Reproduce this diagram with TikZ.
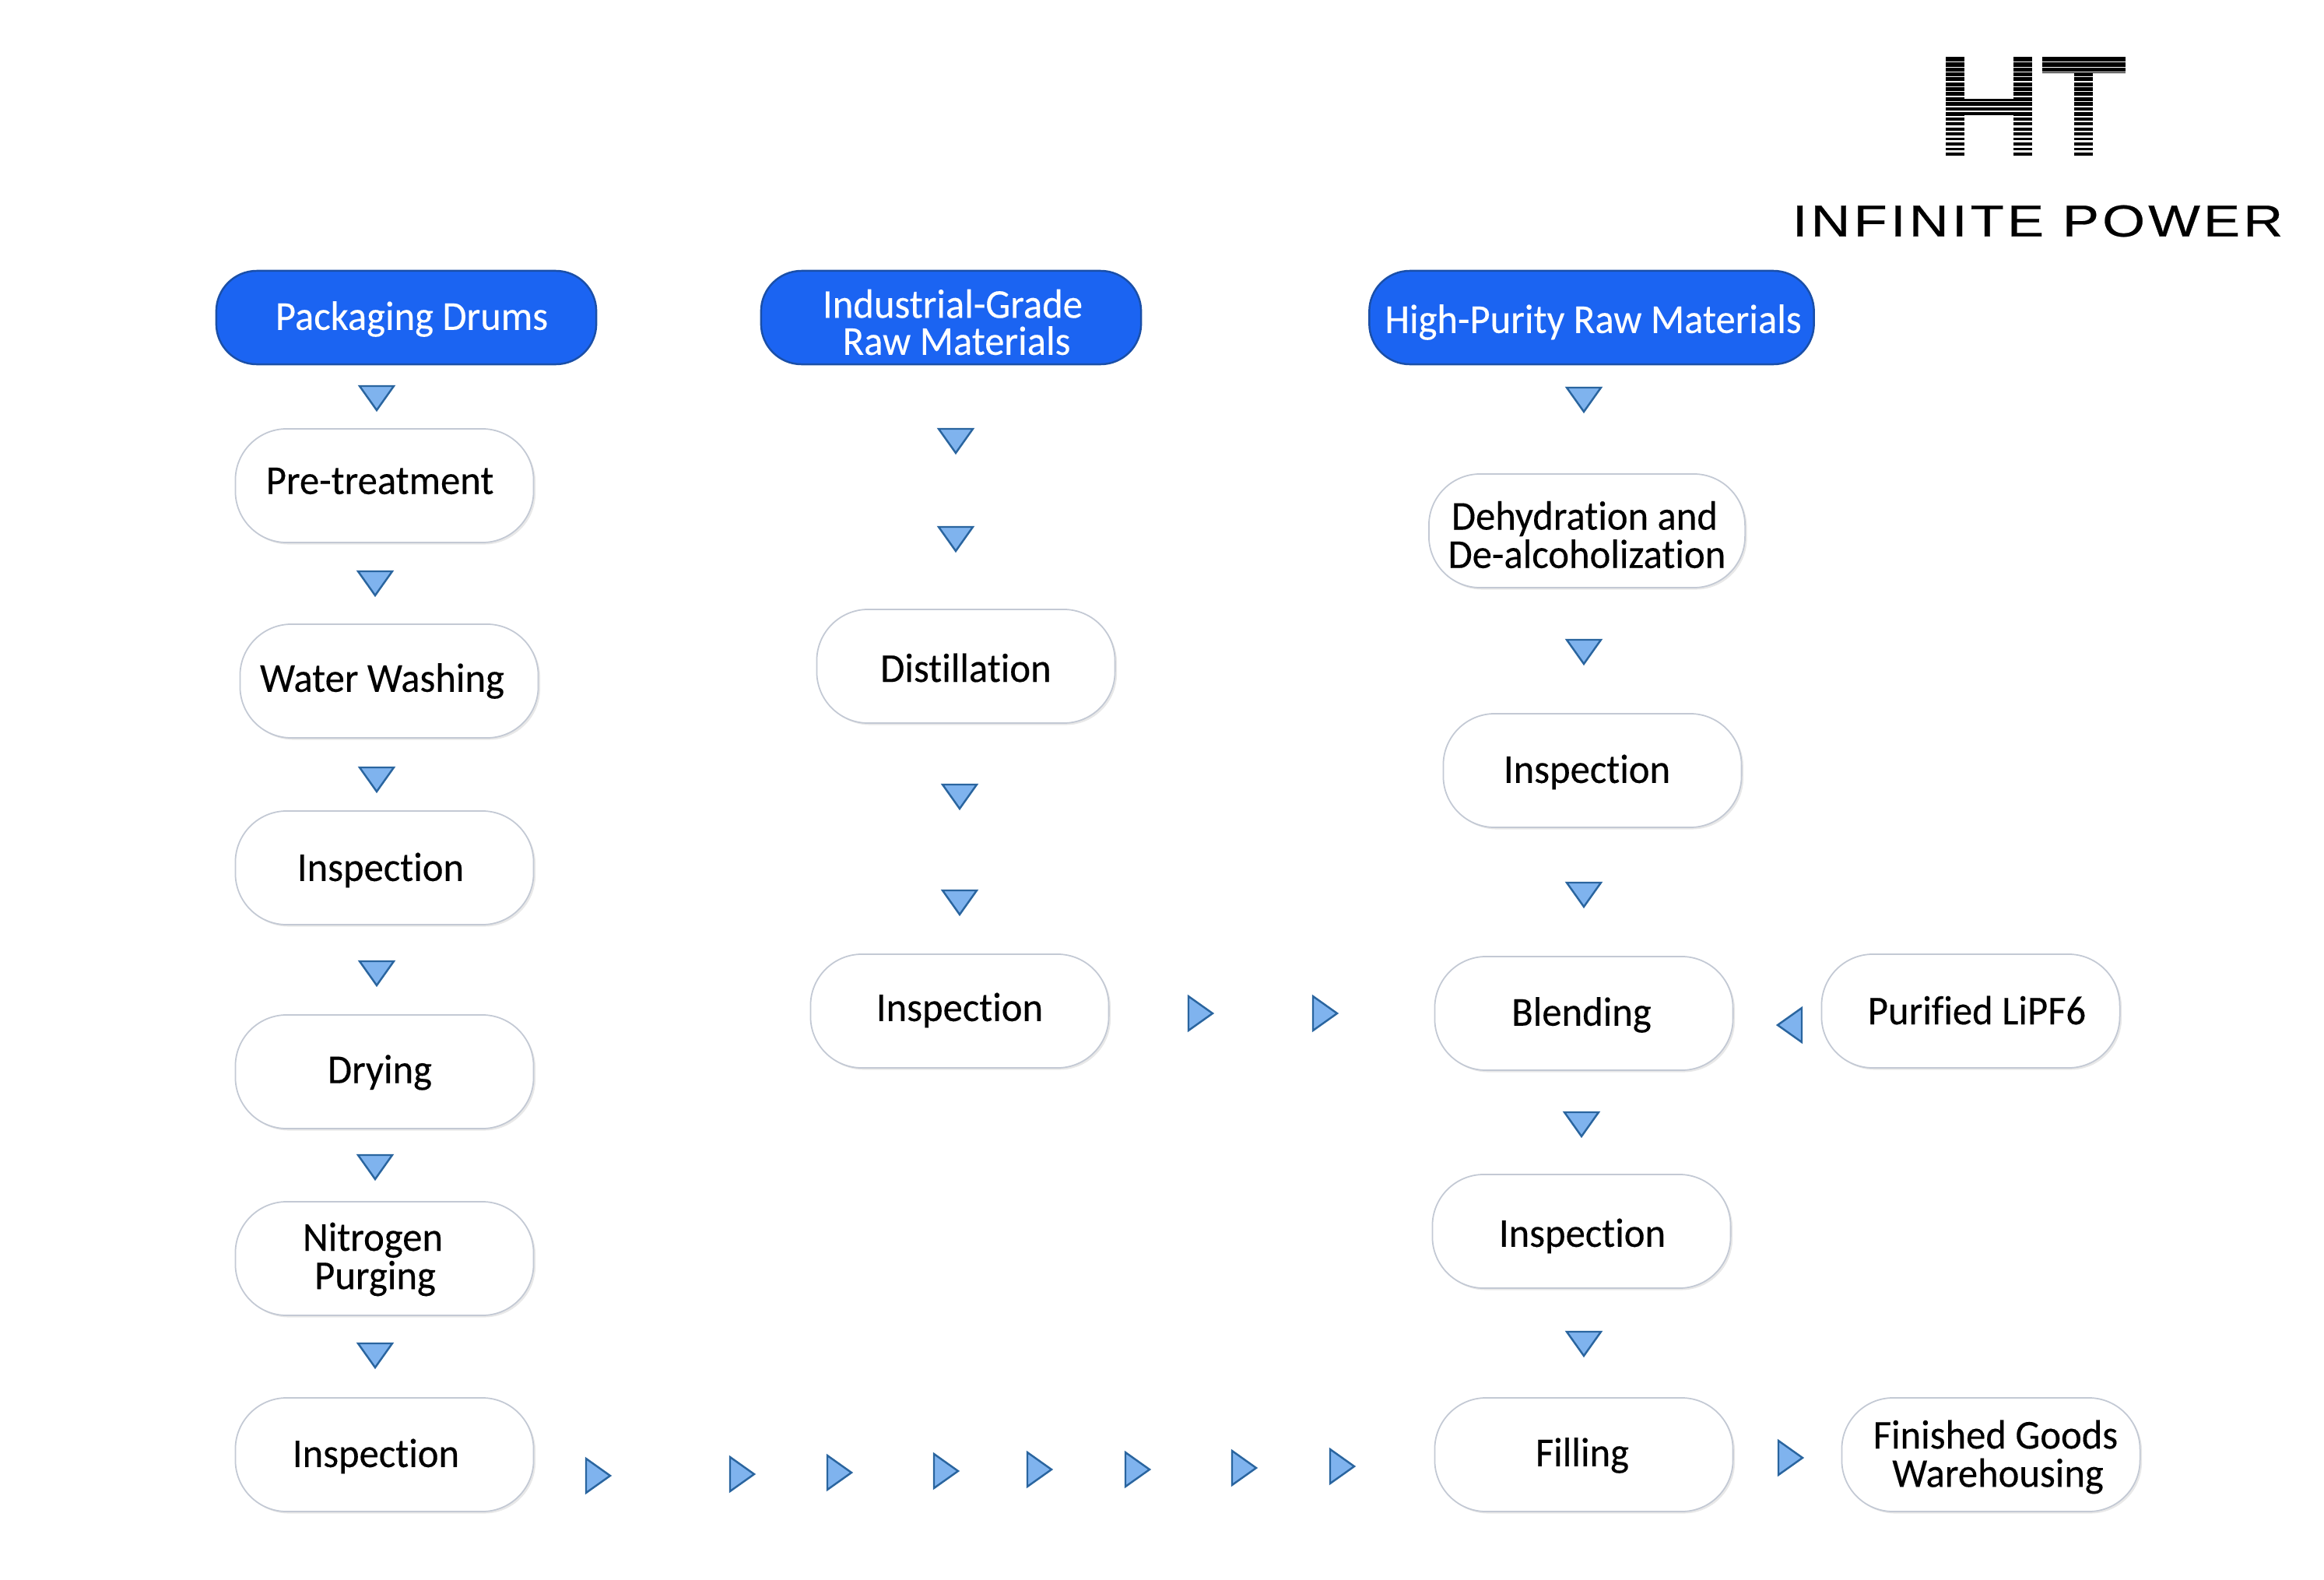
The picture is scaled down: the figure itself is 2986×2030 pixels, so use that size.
\documentclass[tikz,border=0pt]{standalone}
\usepackage{fontspec}
\usepackage{graphicx}
\setmainfont{Carlito}[Ligatures=NoCommon, FakeStretch=0.96, FakeBold=0.25]
\newfontfamily\logofont[LetterSpace=6, FakeBold=0.4]{Liberation Sans}
\usetikzlibrary{shadows}
\definecolor{headblue}{HTML}{1B64F2}
\definecolor{headedge}{HTML}{1A4FA8}
\definecolor{pilledge}{HTML}{C3C9D4}
\definecolor{trifill}{HTML}{7FB3EE}
\definecolor{triedge}{HTML}{2A659F}
\tikzset{
  pill/.style={draw=pilledge, line width=0.5pt, fill=white, rounded corners=0.66cm,
    minimum width=3.83cm, minimum height=1.46cm,
    drop shadow={shadow xshift=0.025cm, shadow yshift=-0.025cm, opacity=0.18}},
  head/.style={draw=headedge, line width=0.7pt, fill=headblue, rounded corners=0.52cm,
    minimum height=1.2cm},
  lbl/.style={inner sep=0pt, align=center, font=\fontsize{15}{14}\selectfont},
  tri/.style={fill=trifill, draw=triedge, line width=0.7pt, line join=miter},
}
\begin{document}
\begin{tikzpicture}[x=0.01cm, y=-0.01cm]
  \useasboundingbox (0,0) rectangle (2986,2030);
  % source headers
  \node[head, minimum width=4.88cm] (drums) at (522,408) {};
  \node[head, minimum width=4.88cm] (indust) at (1222,408) {};
  \node[head, minimum width=5.71cm] (purity) at (2045,408) {};
  \node[lbl, white] (drumsT) at (529,410) {Packaging Drums};
  \node[lbl, white] (industT) at (1224,414) {Industrial-Grade\\[-0.5pt]\hspace*{0.1cm}Raw Materials};
  \node[lbl, white] (purityT) at (2047,414) {High-Purity Raw Materials};
  % process steps: box centre, then text centre
  \foreach \name/\x/\y/\tx/\ty/\txt in {
    pre/494/624/488/618/{Pre-treatment},
    wash/500/875/491/875/{Water Washing},
    inspA/494/1115/489/1118/{Inspection},
    dry/494/1377/488/1378/{Drying},
    nitro/494/1617/479/1618/{Nitrogen\\\hspace*{0.06cm}Purging},
    inspB/494/1869/483/1871/{Inspection},
    distil/1241/856/1241/858/{Distillation},
    inspC/1233/1299/1233/1298/{Inspection},
    inspD/2046/990/2039/992/{Inspection},
    blend/2035/1302/2032/1304/{Blending},
    lipf/2532/1299/2540/1298/{Purified LiPF6},
    inspE/2032/1582/2033/1588/{Inspection},
    fill/2035/1869/2033/1870/{Filling}}
  {
    \node[pill] (\name) at (\x,\y) {};
    \node[lbl] (\name T) at (\tx,\ty) {\txt};
  }
  \node[pill, minimum width=4.06cm] (dehyd) at (2039,682) {};
  \node[lbl] (dehydT) at (2036,687) {Dehydration and\\\hspace*{0.06cm}De-alcoholization};
  \node[pill] (store) at (2558,1869) {};
  \node[lbl] (storeT) at (2564,1872) {Finished Goods\\\hspace*{0.06cm}Warehousing};
  % flow triangles, x/y/turn
  \foreach \x/\y/\ang in {
    484/511/0, 482/749/0, 484/1001/0, 484/1250/0, 482/1499/0, 482/1741/0,
    1228/566/0, 1228/692/0, 1233/1023/0, 1233/1159/0,
    2035/513/0, 2035/837/0, 2035/1149/0, 2032/1444/0, 2035/1726/0,
    1542/1302/90, 1702/1302/90, 2300/1317/-90, 2300/1873/90,
    768/1896/90, 953/1894/90, 1078/1892/90, 1215/1890/90,
    1335/1888/90, 1461/1888/90, 1598/1886/90, 1724/1884/90}
  {
    \draw[tri, shift={(\x,\y)}, rotate=\ang] (-22,-15) -- (22,-15) -- (0,16) -- cycle;
  }
  % logo
  \fill[black] (2500,73) rectangle (2524,200);
  \fill[black] (2587,73) rectangle (2611,200);
  \fill[black] (2524,127) rectangle (2587,148);
  \fill[black] (2624,73) rectangle (2731,94);
  \fill[black] (2665,94) rectangle (2689,200);
  \foreach \i in {1,...,19}
    \draw[white, line width={0.06pt+0.045pt*\i}] (2495,{73+6.4*\i}) -- (2736,{73+6.4*\i});
  \node[inner sep=0pt] (brand) at (2618,284)
    {\resizebox{6.3cm}{0.4cm}{\logofont INFINITE POWER}};
\end{tikzpicture}
\end{document}
